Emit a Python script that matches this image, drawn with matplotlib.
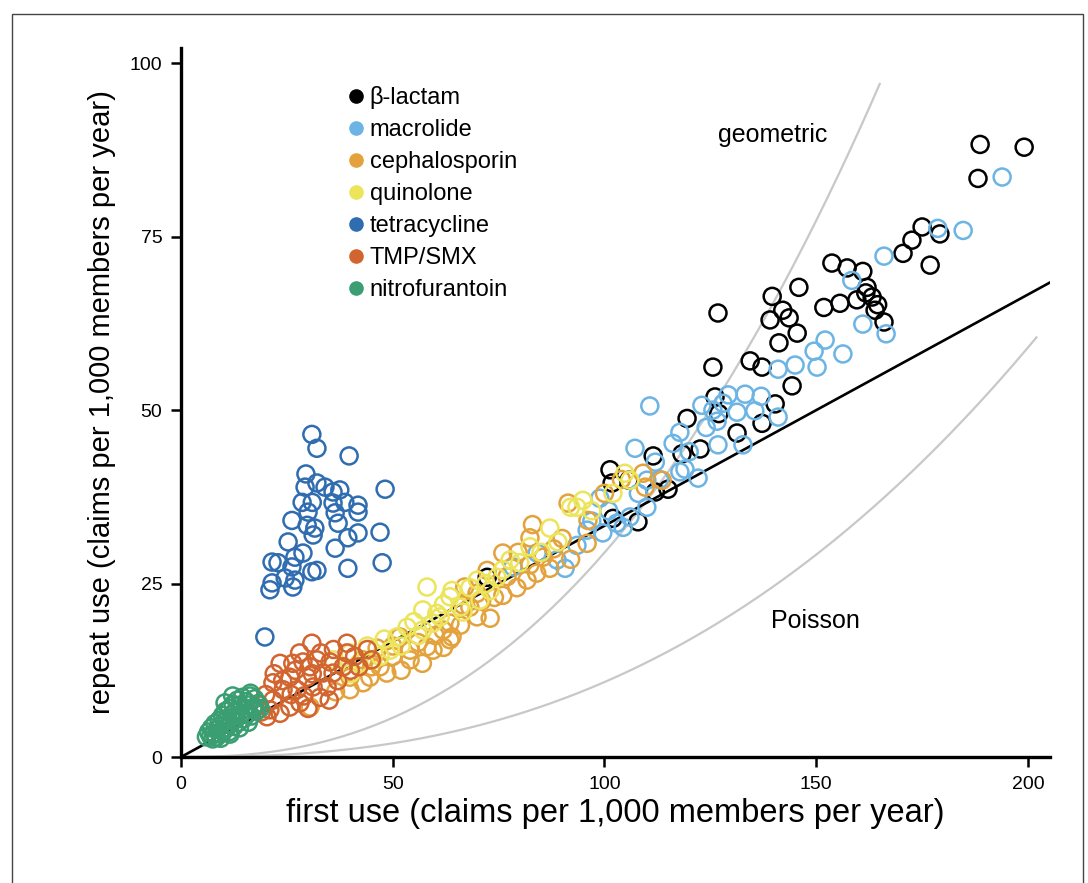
import matplotlib
matplotlib.use("Agg")
import matplotlib.pyplot as plt
from matplotlib.lines import Line2D
from matplotlib.patches import Rectangle
import numpy as np

plt.rcParams['font.family'] = ['Liberation Sans', 'DejaVu Sans']

# ---------------- data ----------------
categories = ["β-lactam", "macrolide", "cephalosporin", "quinolone",
              "tetracycline", "TMP/SMX", "nitrofurantoin"]
colors = ["#000000", "#6CB4E4", "#E3A23C", "#ECE45A",
          "#2F6DB0", "#D2652F", "#3A9E72"]

blactam_x = [188.7, 199.1, 188.2, 175.0, 179.2, 172.6, 170.5, 176.9, 153.7, 157.3,
             161.0, 162.0, 163.2, 159.6, 155.6, 151.8, 163.9, 166.0, 145.9, 139.6,
             142.1, 143.6, 139.1, 145.5, 141.2, 126.8, 161.7, 125.6, 134.4, 137.2,
             144.3, 126.1, 140.3, 119.5, 137.2, 131.3, 122.6, 118.3, 111.5, 101.3,
             101.8, 105.8, 115.0, 102.0, 107.9, 72.3, 112.0, 127.0, 164.5]
blactam_y = [88.3, 87.9, 83.4, 76.4, 75.4, 74.5, 72.6, 70.9, 71.2, 70.5,
             70.0, 67.7, 66.3, 65.9, 65.4, 64.8, 64.4, 62.7, 67.7, 66.4,
             64.4, 63.3, 63.0, 61.1, 59.7, 64.0, 66.9, 56.2, 57.1, 56.2,
             53.5, 51.9, 50.9, 48.8, 48.1, 46.7, 44.4, 43.7, 43.4, 41.4,
             39.5, 39.9, 38.6, 34.4, 33.9, 25.9, 38.2, 49.5, 65.2]

macrolide_x = [193.9, 184.7, 178.7, 166.0, 158.4, 166.5, 161.0, 152.1, 149.5, 156.3,
               150.2, 141.0, 110.7, 123.0, 129.2, 133.2, 125.6, 131.3, 135.5, 141.0,
               117.8, 116.2, 126.6, 126.8, 132.7, 107.2, 117.8, 122.1, 110.0, 98.9,
               95.9, 99.6, 102.9, 106.0, 110.0, 88.8, 90.7, 78.4, 84.1, 104.4,
               93.5, 113.0, 120.0, 97.0, 101.0, 112.0, 124.0, 128.0, 137.0, 119.0,
               108.0, 145.0]
macrolide_y = [83.6, 75.9, 76.2, 72.2, 68.7, 61.0, 62.4, 60.1, 58.5, 58.1,
               56.2, 55.9, 50.6, 50.7, 52.2, 52.3, 50.0, 49.7, 49.9, 49.0,
               46.8, 45.2, 48.4, 45.0, 45.0, 44.5, 41.1, 40.2, 39.9, 37.3,
               32.7, 32.3, 33.7, 34.6, 36.0, 28.4, 27.2, 27.4, 29.4, 33.1,
               30.5, 40.0, 44.0, 34.0, 35.5, 42.5, 47.5, 51.0, 52.0, 41.5,
               38.0, 56.5]

cephalosporin_x = [91.4, 96.1, 95.9, 82.4, 76.0, 79.6, 85.5, 82.4, 72.3, 87.1,
                   81.7, 76.0, 79.3, 69.9, 66.6, 73.0, 69.9, 63.5, 63.5, 59.5,
                   54.1, 51.7, 46.3, 43.0, 39.9, 44.6, 48.6, 39.9, 43.0, 47.0,
                   54.1, 58.1, 64.0, 109.1, 109.6, 113.6, 61.9, 30.5, 36.5, 68.2,
                   45.0, 50.0, 52.0, 56.0, 60.0, 62.0, 66.0, 71.0, 74.0, 77.0,
                   84.0, 88.0, 90.0, 92.0, 100.0, 104.0, 57.0, 50.0, 67.0, 83.0]
cephalosporin_y = [36.6, 34.1, 30.8, 31.6, 29.4, 29.5, 28.8, 27.7, 26.9, 27.2,
                   25.5, 23.3, 24.4, 23.6, 21.9, 20.0, 20.2, 19.3, 16.9, 15.4,
                   15.4, 17.3, 15.7, 14.0, 11.5, 11.5, 12.1, 9.7, 10.7, 13.0,
                   14.0, 15.9, 17.3, 40.9, 38.9, 39.9, 18.3, 7.2, 9.4, 21.6,
                   13.0, 14.5, 12.5, 16.5, 17.5, 15.8, 19.0, 22.5, 23.0, 26.0,
                   26.5, 30.0, 31.5, 28.5, 38.0, 40.0, 13.5, 16.0, 24.5, 33.5]

quinolone_x = [87.1, 94.9, 58.1, 68.2, 63.5, 57.1, 61.2, 66.6, 53.4, 57.1,
               51.0, 45.3, 39.9, 38.3, 49.4, 82.4, 59.5, 104.8, 93.5, 77.7,
               74.6, 70.6, 65.9, 60.4, 106.0, 42.0, 36.0, 48.0, 72.0, 80.0,
               40.0, 44.0, 47.0, 52.0, 55.0, 62.0, 64.0, 70.0, 73.0, 76.0,
               85.0, 89.0, 92.0, 97.0, 102.0, 56.0]
quinolone_y = [33.0, 37.0, 24.5, 24.4, 23.1, 21.2, 20.2, 20.9, 18.7, 18.3,
               17.3, 14.0, 15.0, 13.0, 15.4, 30.3, 19.3, 40.9, 36.0, 28.4,
               25.9, 22.6, 21.6, 20.7, 39.9, 13.5, 14.0, 17.0, 25.0, 28.0,
               12.0, 16.0, 14.5, 16.0, 19.5, 22.0, 24.0, 25.5, 24.0, 27.0,
               29.5, 31.0, 36.0, 35.5, 38.0, 17.5]

tetracycline_x = [30.9, 32.1, 39.7, 29.5, 48.2, 29.3, 32.1, 34.0, 37.5, 35.9,
                  28.6, 31.0, 35.9, 38.7, 41.8, 41.8, 30.0, 36.4, 26.2, 29.8,
                  31.6, 31.2, 37.1, 41.8, 47.0, 39.4, 25.3, 28.8, 36.4, 22.9,
                  26.9, 26.2, 30.9, 39.4, 47.5, 21.5, 21.0, 24.6, 26.9, 26.4,
                  32.1, 19.8, 21.5]
tetracycline_y = [46.5, 44.5, 43.4, 40.8, 38.6, 38.9, 39.5, 38.9, 38.5, 38.2,
                  36.7, 36.7, 36.6, 36.7, 36.3, 35.3, 35.3, 35.2, 34.1, 33.4,
                  33.0, 32.0, 33.7, 32.3, 32.4, 31.6, 31.0, 29.4, 30.1, 28.0,
                  28.8, 27.4, 26.7, 27.2, 28.0, 25.1, 24.1, 25.8, 25.5, 24.5,
                  26.9, 17.3, 28.1]

tmpsmx_x = [30.9, 39.2, 39.2, 23.4, 26.4, 28.8, 32.1, 35.2, 33.5, 29.8,
            25.7, 21.7, 24.1, 27.4, 31.2, 34.5, 21.7, 28.1, 23.4, 21.0,
            25.7, 35.9, 38.3, 32.8, 20.3, 30.5, 19.0, 27.0, 37.0, 41.0,
            44.0, 18.5, 29.0, 22.0, 26.0, 30.0, 33.0, 36.0, 40.0, 42.0,
            24.0, 31.0, 20.0, 28.0, 35.0, 45.0]
tmpsmx_y = [16.4, 16.4, 15.0, 13.5, 13.5, 13.7, 14.0, 13.7, 12.1, 11.5,
            11.5, 10.7, 9.7, 9.7, 10.1, 10.1, 8.2, 7.8, 6.3, 6.8,
            7.2, 12.1, 13.0, 8.6, 5.8, 13.0, 6.5, 12.5, 11.0, 14.5,
            15.5, 7.5, 8.8, 12.0, 9.0, 7.0, 15.0, 15.5, 12.5, 13.0,
            11.0, 12.0, 9.0, 15.0, 8.2, 14.0]

nitro_x = [6.0, 6.5, 7.0, 7.2, 7.8, 8.0, 8.3, 8.6, 9.0, 9.2, 9.5, 9.8, 10.0, 10.3,
           10.5, 10.8, 11.0, 11.3, 11.5, 11.8, 12.0, 12.3, 12.5, 12.8, 13.0, 13.3,
           13.6, 13.9, 14.2, 14.5, 14.8, 15.1, 15.4, 15.7, 16.0, 16.3, 16.6, 17.0,
           17.4, 17.8, 18.2, 18.7, 10.4, 12.2, 16.4, 7.5, 9.4, 11.6, 13.8, 15.9]
nitro_y = [2.9, 3.6, 3.0, 4.2, 3.4, 4.8, 2.8, 4.0, 5.3, 3.3, 4.6, 6.0, 3.7, 5.1,
           6.6, 4.2, 5.6, 3.6, 7.0, 4.8, 6.1, 7.6, 4.4, 5.5, 6.8, 8.2, 5.0, 7.4,
           6.1, 8.6, 5.5, 7.0, 8.0, 6.2, 7.5, 8.8, 5.9, 7.1, 8.4, 6.6, 7.7, 7.0,
           7.8, 8.8, 9.2, 2.6, 2.7, 3.3, 4.2, 5.0]

series_x = [blactam_x, macrolide_x, cephalosporin_x, quinolone_x,
            tetracycline_x, tmpsmx_x, nitro_x]
series_y = [blactam_y, macrolide_y, cephalosporin_y, quinolone_y,
            tetracycline_y, tmpsmx_y, nitro_y]

# reference model curves (power-law fits)
ratio_slope = 1.0 / 3.0          # black line: repeat = first / 3
geom_coef, geom_exp, geom_xmax = 5.12e-4, 2.38, 165.0
pois_coef, pois_exp, pois_xmax = 1.36e-4, 2.45, 202.0

x_ticks = [0, 50, 100, 150, 200]
y_ticks = [0, 25, 50, 75, 100]

# ---------------- figure ----------------
W, H = 1088, 883
fig = plt.figure(figsize=(W / 100, H / 100), dpi=100)
ax = fig.add_axes([181 / W, 1 - 757 / H, (1050 - 181) / W, (757 - 48) / H])

# outer frame
fig.patches.append(Rectangle((12 / W, -0.02), (1083 - 12) / W, 1 - 14 / H + 0.02,
                             transform=fig.transFigure, fill=False,
                             edgecolor="#444444", linewidth=1.0))

xmax = 205.2
xl = np.linspace(0, xmax, 50)
ax.plot(xl, ratio_slope * xl, color="black", lw=1.9, zorder=1)

xg = np.linspace(0, geom_xmax, 200)
ax.plot(xg, geom_coef * xg ** geom_exp, color="#C8C8C8", lw=1.6, zorder=0.5)
xp = np.linspace(0, pois_xmax, 200)
ax.plot(xp, pois_coef * xp ** pois_exp, color="#C8C8C8", lw=1.6, zorder=0.5)

order = [6, 5, 4, 2, 3, 1, 0]
for i in order:
    ax.scatter(series_x[i], series_y[i], s=150, facecolors="none",
               edgecolors=colors[i], linewidths=1.8, zorder=2 + i * 0.01)

ax.text(139.6, 89.6, "geometric", fontsize=18, ha="center", va="center")
ax.text(149.7, 19.6, "Poisson", fontsize=18, ha="center", va="center")

handles = [Line2D([], [], marker="o", linestyle="none", markersize=9.5,
                  markerfacecolor=c, markeredgecolor=c) for c in colors]
leg = ax.legend(handles, categories, loc="upper left",
                bbox_to_anchor=(0.194, 0.946), frameon=False, fontsize=17,
                handlelength=0.55, handletextpad=0.3, labelspacing=0.42,
                borderpad=0, borderaxespad=0)

ax.set_xlim(0, xmax)
ax.set_ylim(0, 102.2)
ax.set_xticks(x_ticks)
ax.set_yticks(y_ticks)
ax.tick_params(direction="out", length=7.5, width=1.8, labelsize=14,
               colors="black", pad=6)
for s in ["top", "right"]:
    ax.spines[s].set_visible(False)
for s in ["left", "bottom"]:
    ax.spines[s].set_linewidth(2.4)

ax.set_xlabel("first use (claims per 1,000 members per year)", fontsize=23.5,
              labelpad=4)
ax.set_ylabel("repeat use (claims per 1,000 members per year)", fontsize=21,
              labelpad=10)

fig.savefig("out.png", dpi=100)
